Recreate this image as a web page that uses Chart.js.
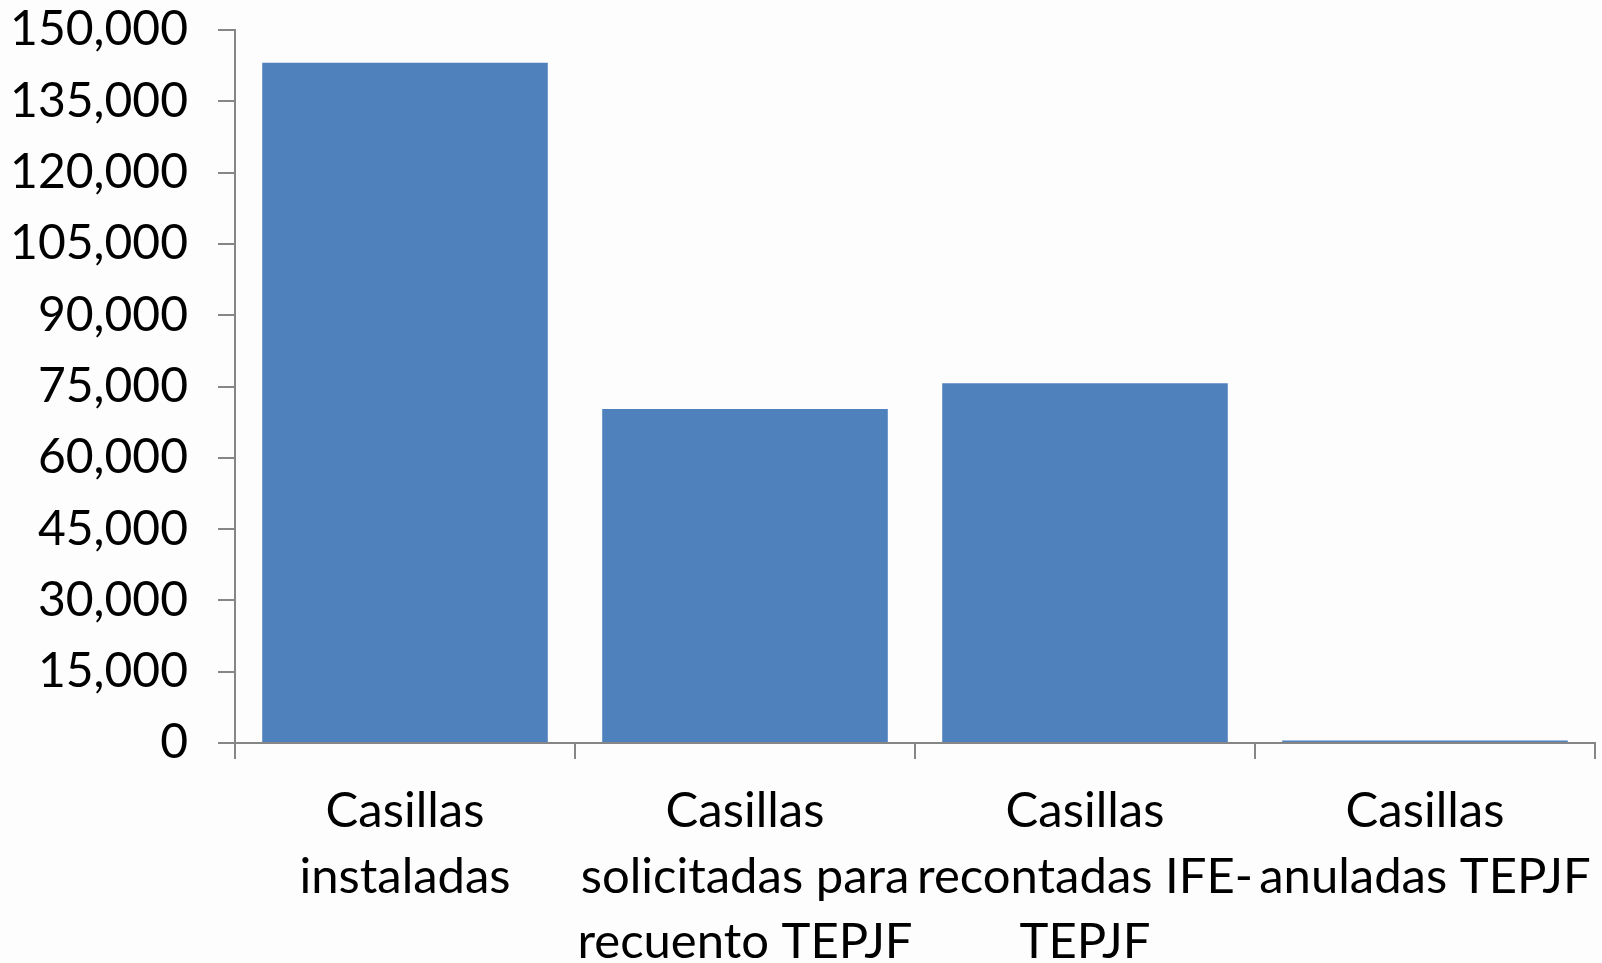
<!DOCTYPE html>
<html>
<head>
<meta charset="utf-8">
<script src="https://cdn.jsdelivr.net/npm/chart.js@4"></script>
<style>
  html, body { margin: 0; padding: 0; background: #fdfdfd; }
  #wrap { width: 1602px; height: 963px; }
</style>
</head>
<body>
<div id="wrap"><canvas id="grafico"></canvas></div>
<script>
const categorias = [
  ["Casillas", "instaladas"],
  ["Casillas", "solicitadas para", "recuento TEPJF"],
  ["Casillas", "recontadas IFE-", "TEPJF"],
  ["Casillas", "anuladas TEPJF"],
];
const valores = [143132, 70260, 75660, 500];
const ejeMin = 0;
const ejeMax = 150000;
const ejePaso = 15000;

const gris = "#868686";
const fuente = "Lato";

const ctx = document.getElementById("grafico").getContext("2d");

new Chart(ctx, {
  type: "bar",
  data: {
    labels: categorias,
    datasets: [
      {
        data: valores,
        backgroundColor: "#4f81bd",
        borderWidth: 0,
        barPercentage: 0.84,
        categoryPercentage: 1,
      },
    ],
  },
  options: {
    responsive: true,
    maintainAspectRatio: false,
    animation: false,
    layout: { padding: { top: 30, right: 7, left: 0, bottom: 0 } },
    plugins: { legend: { display: false }, tooltip: { enabled: false } },
    scales: {
      x: {
        // tamaño fijo para que el área del gráfico quede igual al original
        afterFit: (s) => {
          s.height = 220;
          s.paddingLeft = 0;
          s.paddingRight = 0;
        },
        border: { color: gris, width: 2 },
        grid: {
          display: true,
          drawOnChartArea: false,
          color: gris,
          lineWidth: 2,
          tickLength: 16,
          offset: true,
        },
        ticks: {
          color: "#000",
          autoSkip: false,
          maxRotation: 0,
          padding: 20,
          font: { family: fuente, size: 49, lineHeight: 1.33 },
        },
      },
      y: {
        min: ejeMin,
        max: ejeMax,
        afterFit: (s) => {
          s.width = 235;
          s.paddingTop = 0;
          s.paddingBottom = 0;
        },
        border: { color: gris, width: 2 },
        grid: {
          display: true,
          drawOnChartArea: false,
          color: gris,
          lineWidth: 2,
          tickLength: 17,
        },
        ticks: {
          stepSize: ejePaso,
          color: "#000",
          padding: 30,
          font: { family: fuente, size: 48 },
          callback: (v) => v.toLocaleString("en-US"),
        },
      },
    },
  },
});
</script>
</body>
</html>
